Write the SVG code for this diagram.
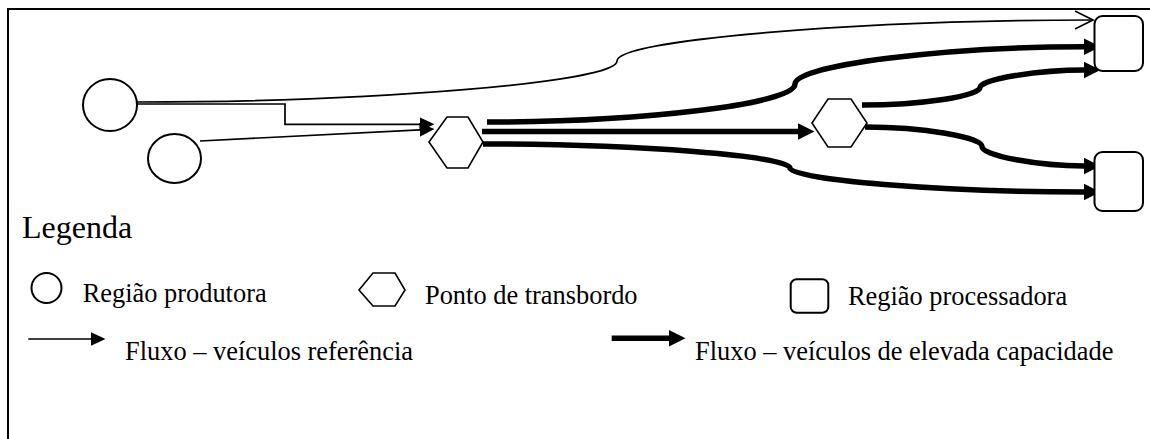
<svg xmlns="http://www.w3.org/2000/svg" width="1150" height="439" viewBox="0 0 1150 439">
<style>
.node{fill:#fff;stroke:#000;stroke-width:2}
.hex{fill:#fff;stroke:#000;stroke-width:1.6}
.thin{fill:none;stroke:#000;stroke-width:1.7}
.thick{fill:none;stroke:#000;stroke-width:5.5}
.txt{font-family:"Liberation Serif","Times New Roman",serif;font-size:26.4px;fill:#000}
.frame{fill:none;stroke:#000;stroke-width:2}
</style>
<defs>
<marker id="aThick" markerUnits="userSpaceOnUse" markerWidth="17" markerHeight="17" viewBox="0 0 17 17" refX="0.5" refY="8.5" orient="auto"><path d="M0,0 L17,8.5 L0,17 z" fill="#000"/></marker>
<marker id="aThin" markerUnits="userSpaceOnUse" markerWidth="15" markerHeight="14" viewBox="0 0 15 14" refX="0.5" refY="7" orient="auto"><path d="M0,0 L15,7 L0,14 z" fill="#000"/></marker>
<marker id="aOpen" markerUnits="userSpaceOnUse" markerWidth="18" markerHeight="18" viewBox="0 0 18 18" refX="18" refY="9" orient="auto" overflow="visible"><path d="M0,0 L18,9 L0,18" fill="none" stroke="#000" stroke-width="1.7"/></marker>
</defs>
<g id="frame"><path class="frame" d="M8,439 V9 H1150"/></g>
<g id="connectors">
<path class="thin" d="M137,102 C377,102 617,82 617,61 C617,40 855,20 1093,20" marker-end="url(#aOpen)"/>
<path class="thin" d="M137,104 H285 V124.3 H420" marker-end="url(#aThin)"/>
<path class="thin" d="M200,141 L420,129.8" marker-end="url(#aThin)"/>
<path class="thick" d="M487,122 C641,122 795,104 795,84 C795,65 946,46.7 1084,46.7" marker-end="url(#aThick)"/>
<path class="thick" d="M482,131.5 H798" marker-end="url(#aThick)"/>
<path class="thick" d="M483,144 C636,144 790,156 790,168 C790,180 944,192 1084,192" marker-end="url(#aThick)"/>
<path class="thick" d="M862,105 C921,105 980,96 980,87.5 C980,79 1040,70 1084,70" marker-end="url(#aThick)"/>
<path class="thick" d="M865,127 C923,127 982,137 982,146.5 C982,156 1040,166 1084,166" marker-end="url(#aThick)"/>
</g>
<g id="producer1"><ellipse class="node" cx="110" cy="105" rx="27" ry="26"/></g>
<g id="producer2"><ellipse class="node" cx="174.5" cy="158.5" rx="26.5" ry="24.5"/></g>
<g id="transshipment1"><polygon class="hex" points="447,117 468,117 483,142 468,168 447,168 429,142"/></g>
<g id="transshipment2"><polygon class="hex" points="828,99 851,99 867,123 851,147 828,147 812,123"/></g>
<g id="processor1"><rect class="node" x="1094.5" y="16" width="48.5" height="55" rx="8"/></g>
<g id="processor2"><rect class="node" x="1094.5" y="152" width="48.5" height="59" rx="8"/></g>
<g id="legend">
<text class="txt" x="22" y="238" style="font-size:32px">Legenda</text>
<circle class="node" cx="46.5" cy="288" r="15"/>
<text class="txt" x="82.7" y="302">Região produtora</text>
<polygon class="hex" points="359,290 373,273 395,273 405,290 395,306 373,306"/>
<text class="txt" x="425" y="303.5">Ponto de transbordo</text>
<rect class="node" x="790.7" y="279.3" width="37.6" height="33.4" rx="6"/>
<text class="txt" x="848" y="305">Região processadora</text>
<path class="thin" d="M28.3,339 H91" marker-end="url(#aThin)"/>
<text class="txt" x="125" y="360">Fluxo – veículos referência</text>
<path class="thick" d="M611.7,338.3 H669" marker-end="url(#aThick)"/>
<text class="txt" x="695" y="360">Fluxo – veículos de elevada capacidade</text>
</g>
</svg>
